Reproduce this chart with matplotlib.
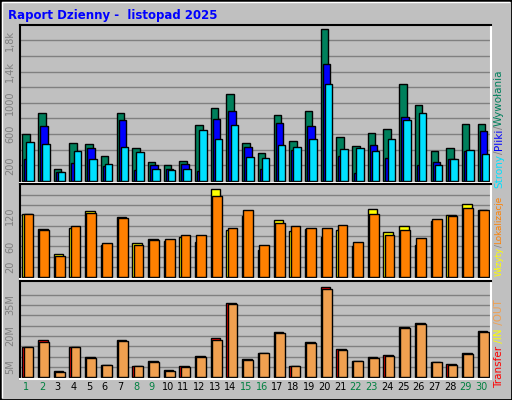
import matplotlib
matplotlib.use("Agg")
import matplotlib.pyplot as plt
import numpy as np

days = [str(i) for i in range(1, 31)]
weekend = [1, 2, 8, 9, 15, 16, 22, 23, 29, 30]
hits = [598, 866, 153, 484, 471, 318, 866, 420, 242, 204, 255, 713, 929, 1108, 484,
        356, 840, 509, 891, 1948, 560, 446, 611, 662, 1235, 968, 382, 420, 726, 726]
files = [284, 700, 115, 229, 420, 195, 777, 140, 204, 153, 216, 127, 789, 891, 433,
         153, 738, 400, 700, 1490, 318, 102, 458, 293, 815, 204, 242, 280, 382, 637]
pages = [497, 471, 115, 382, 280, 216, 433, 369, 153, 140, 153, 649, 535, 713, 306,
         293, 458, 433, 535, 1235, 407, 420, 382, 535, 777, 866, 204, 280, 395, 344]
visits = [123, 94, 45, 95, 128, 63, 117, 66, 74, 70, 78, 68, 171, 92, 119,
          53, 111, 90, 94, 78, 92, 61, 132, 88, 99, 63, 109, 121, 142, 130]
sites = [123, 92, 41, 99, 125, 66, 115, 63, 72, 74, 82, 82, 157, 95, 130,
         63, 105, 99, 95, 95, 101, 68, 123, 82, 92, 76, 113, 119, 134, 130]
transfer = [14.8, 18.2, 3.2, 14.8, 10.0, 6.1, 18.2, 5.6, 8.1, 3.7, 5.6, 10.5, 19.2, 36.1, 9.0,
            11.9, 22.1, 5.6, 17.3, 43.9, 13.9, 8.1, 10.0, 11.0, 24.5, 26.5, 7.6, 6.6, 11.9, 22.6]
outv = [14.8, 17.3, 2.7, 14.8, 9.5, 6.1, 17.7, 5.6, 7.6, 3.2, 5.2, 10.0, 18.2, 35.6, 8.5,
        11.9, 21.6, 5.6, 16.8, 42.9, 13.4, 8.1, 9.5, 10.5, 24.0, 26.0, 7.6, 6.1, 11.5, 22.1]

W, H = 512, 400
fig = plt.figure(figsize=(W/100, H/100), dpi=100, facecolor="#c0c0c0")
fig.add_artist(plt.Rectangle((0, 0), 1, 1, transform=fig.transFigure, fill=False, ec="#000000", lw=2))
fig.add_artist(plt.Line2D([2/W, 2/W, 1-3/W], [3/H, 1-2/H, 1-2/H], transform=fig.transFigure, color="white", lw=1))

def ax_at(x0, y0, x1, y1):
    return fig.add_axes([x0/W, 1-y1/H, (x1-x0)/W, (y1-y0)/H])

x = np.arange(30)
axes = [ax_at(20, 25, 491, 183), ax_at(20, 184, 491, 279), ax_at(20, 281, 491, 379)]
for a in axes:
    a.set_facecolor("#c0c0c0")
    a.set_xlim(-0.1, 29.9)
    for s in a.spines.values():
        s.set_color("white"); s.set_linewidth(1.5)
    a.spines["left"].set_color("#000000"); a.spines["top"].set_color("#000000")
    a.tick_params(axis="both", length=0, labelsize=7, labelcolor="#808080")
    a.set_xticks([])
    a.set_axisbelow(True)
    a.grid(axis="y", color="#808080", lw=1)

ek = dict(edgecolor="black", linewidth=1, align="edge")
a = axes[0]
a.bar(x + 0.05, hits, 0.48, color="#00805c", **ek)
a.bar(x + 0.18, files, 0.48, color="#0000ff", **ek)
a.bar(x + 0.31, pages, 0.48, color="#00e0ff", **ek)
a.set_ylim(-25, 1995)
a.set_yticks(np.arange(200, 1801, 200))
a.set_yticklabels(["200", "", "600", "", "1000", "", "1,4k", "", "1,8k"], rotation=90, va="center")

a = axes[1]
a.bar(x + 0.05, visits, 0.62, color="#ffff00", **ek)
a.bar(x + 0.13, sites, 0.62, color="#ff8000", **ek)
a.set_ylim(-3, 181)
a.set_yticks(np.arange(20, 161, 20))
a.set_yticklabels(["20", "", "60", "", "", "120", "", ""], rotation=90, va="center")

a = axes[2]
a.bar(x + 0.05, transfer, 0.62, color="#ff0000", **ek)
a.bar(x + 0.13, outv, 0.62, color="#f0a050", **ek)
a.set_ylim(-0.8, 46.6)
a.set_yticks(np.arange(5, 41, 5))
a.set_yticklabels(["5M", "", "", "20M", "", "", "35M", ""], rotation=90, va="center")

for i, d in enumerate(days):
    xp = (20 + (i + 0.4) * 471/30) / W
    fig.text(xp, 1 - 387/H, d, ha="center", va="center", fontsize=7,
             color="#008040" if (i+1) in weekend else "black")

fig.text(8/W, 1-15/H, "Raport Dzienny -  listopad 2025", color="#0000ff", fontsize=8.5,
         fontweight="bold", va="center")

def stack(pieces, xpix, ybottom, fs):
    fig.canvas.draw()
    r = fig.canvas.get_renderer()
    y = 1 - ybottom/H
    for txt, col in pieces:
        t = fig.text(xpix/W, y, txt, color=col, rotation=90, fontsize=fs, ha="center", va="bottom")
        bb = t.get_window_extent(r)
        y += bb.height / H

stack([("Strony", "#00e0ff"), ("/", "#808080"), ("Pliki", "#0000ff"), ("/", "#808080"),
       ("Wywołania", "#00805c")], 499, 188, 7.5)
stack([("Wizyty", "#ffff00"), ("/", "#808080"), ("Lokalizacje", "#ff8000")], 499, 276, 6.3)
stack([("Transfer", "#ff0000"), (" /IN", "#ffff00"), (" /OUT", "#f0a050")], 499, 388, 7.5)

fig.savefig("out.png", dpi=100, facecolor=fig.get_facecolor())
